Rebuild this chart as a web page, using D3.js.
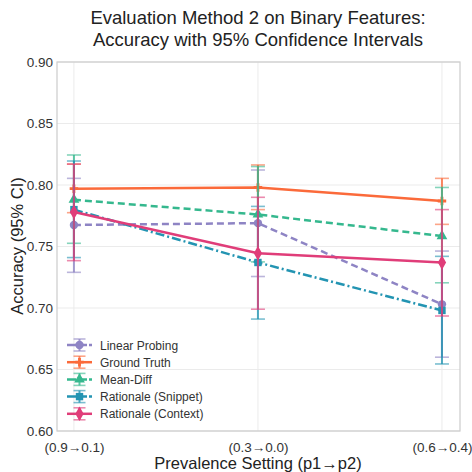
<!DOCTYPE html>
<html>
<head>
<meta charset="utf-8">
<script src="https://cdn.jsdelivr.net/npm/d3@7"></script>
<style>
  body { margin: 0; background: #fff; }
  svg { font-family: "Liberation Sans", Arial, sans-serif; }
</style>
</head>
<body>
<svg id="chart"></svg>
<script>
// categories and tick labels
let settings = ['(0.9\u21920.1)', '(0.3\u21920.0)', '(0.6\u21920.4)']
let yTicks = [0.60, 0.65, 0.70, 0.75, 0.80, 0.85, 0.90]

// series: mean accuracy, lower and upper 95% CI
let seriesNames = ['Linear Probing', 'Ground Truth', 'Mean-Diff', 'Rationale (Snippet)', 'Rationale (Context)']
let linearProbing = [0.7675, 0.769, 0.703]
let linearProbingLo = [0.729, 0.7256, 0.660]
let linearProbingHi = [0.8054, 0.8122, 0.7463]
let groundTruth = [0.797, 0.798, 0.787]
let groundTruthLo = [0.7775, 0.780, 0.768]
let groundTruthHi = [0.817, 0.8163, 0.8054]
let meanDiff = [0.788, 0.776, 0.7585]
let meanDiffLo = [0.7526, 0.7375, 0.7205]
let meanDiffHi = [0.8244, 0.815, 0.798]
let snippet = [0.780, 0.737, 0.698]
let snippetLo = [0.741, 0.691, 0.6545]
let snippetHi = [0.8195, 0.7826, 0.742]
let context = [0.778, 0.7445, 0.737]
let contextLo = [0.7385, 0.699, 0.6935]
let contextHi = [0.817, 0.790, 0.780]

let width = 472
let height = 472
let margin = {left: 57, right: 12, top: 62, bottom: 41}

let series = [
  {name: seriesNames[0], mean: linearProbing, lo: linearProbingLo, hi: linearProbingHi, color: '#8e84c4', dash: '7,4', symbol: d3.symbolCircle, size: 55},
  {name: seriesNames[1], mean: groundTruth, lo: groundTruthLo, hi: groundTruthHi, color: '#fb6a3a', dash: null, symbol: d3.symbolCross, size: 40},
  {name: seriesNames[2], mean: meanDiff, lo: meanDiffLo, hi: meanDiffHi, color: '#35b88e', dash: '7,4', symbol: d3.symbolTriangle, size: 50},
  {name: seriesNames[3], mean: snippet, lo: snippetLo, hi: snippetHi, color: '#2394b2', dash: '9,3,2,3', symbol: d3.symbolSquare, size: 55},
  {name: seriesNames[4], mean: context, lo: contextLo, hi: contextHi, color: '#e03d79', dash: null, symbol: d3.symbolDiamond, size: 60}
]

let svg = d3.select('#chart').attr('width', width).attr('height', height)

let xScale = d3.scaleLinear()
  .domain([-0.092, 2.098])
  .range([margin.left, width - margin.right])

let yScale = d3.scaleLinear()
  .domain([0.60, 0.90])
  .range([height - margin.bottom, margin.top])

// grid
svg.append('g')
  .selectAll('line.hgrid')
  .data(yTicks)
  .enter()
  .append('line')
  .attr('x1', margin.left).attr('x2', width - margin.right)
  .attr('y1', d => yScale(d)).attr('y2', d => yScale(d))
  .attr('stroke', '#ebebeb').attr('stroke-width', 1)

svg.append('g')
  .selectAll('line.vgrid')
  .data(settings)
  .enter()
  .append('line')
  .attr('x1', (d, i) => xScale(i)).attr('x2', (d, i) => xScale(i))
  .attr('y1', margin.top).attr('y2', height - margin.bottom)
  .attr('stroke', '#ebebeb').attr('stroke-width', 1)

// frame
svg.append('rect')
  .attr('x', margin.left).attr('y', margin.top)
  .attr('width', width - margin.left - margin.right)
  .attr('height', height - margin.top - margin.bottom)
  .attr('fill', 'none').attr('stroke', '#cccccc').attr('stroke-width', 1.2)

// axes
let xAxis = d3.axisBottom(xScale)
  .tickValues([0, 1, 2])
  .tickFormat(i => settings[i])
  .tickSize(0).tickPadding(11)
let yAxis = d3.axisLeft(yScale)
  .tickValues(yTicks)
  .tickFormat(d3.format('.2f'))
  .tickSize(0).tickPadding(4)

let gx = svg.append('g')
  .attr('transform', 'translate(0,' + (height - margin.bottom) + ')')
  .call(xAxis)
let gy = svg.append('g')
  .attr('transform', 'translate(' + margin.left + ',0)')
  .call(yAxis)
gx.select('.domain').remove()
gy.select('.domain').remove()
svg.selectAll('.tick text').attr('font-size', 13.5).attr('fill', '#333')
  .attr('font-family', '"Liberation Sans", Arial, sans-serif')

// series
series.forEach(s => {
  let g = svg.append('g')

  // error bars
  s.mean.forEach((m, i) => {
    let x = xScale(i)
    g.append('line')
      .attr('x1', x).attr('x2', x)
      .attr('y1', yScale(s.lo[i])).attr('y2', yScale(s.hi[i]))
      .attr('stroke', s.color).attr('stroke-width', 2).attr('opacity', 0.8)
    ;[s.lo[i], s.hi[i]].forEach(v => {
      g.append('line')
        .attr('x1', x - 7).attr('x2', x + 7)
        .attr('y1', yScale(v)).attr('y2', yScale(v))
        .attr('stroke', s.color).attr('stroke-width', 1.6).attr('opacity', 0.6)
    })
  })

  let line = d3.line()
    .x((d, i) => xScale(i))
    .y(d => yScale(d))
  g.append('path')
    .datum(s.mean)
    .attr('d', line)
    .attr('fill', 'none')
    .attr('stroke', s.color)
    .attr('stroke-width', 2.5)
    .attr('stroke-dasharray', s.dash)

  g.selectAll('path.marker')
    .data(s.mean)
    .enter()
    .append('path')
    .attr('d', d3.symbol().type(s.symbol).size(s.size))
    .attr('transform', (d, i) => 'translate(' + xScale(i) + ',' + yScale(d) + ')')
    .attr('fill', s.color)
})

// legend
let legend = svg.append('g').attr('transform', 'translate(67,345)')
series.forEach((s, i) => {
  let row = legend.append('g').attr('transform', 'translate(0,' + (i * 17.2) + ')')
  row.append('line')
    .attr('x1', 0).attr('x2', 25).attr('y1', 0).attr('y2', 0)
    .attr('stroke', s.color).attr('stroke-width', 2.5)
    .attr('stroke-dasharray', s.dash ? '9,2' : null)
  row.append('line')
    .attr('x1', 12.5).attr('x2', 12.5).attr('y1', -6).attr('y2', 6)
    .attr('stroke', s.color).attr('stroke-width', 2).attr('opacity', 0.8)
  ;[-6, 6].forEach(dy => {
    row.append('line')
      .attr('x1', 6.5).attr('x2', 18.5).attr('y1', dy).attr('y2', dy)
      .attr('stroke', s.color).attr('stroke-width', 1.6).attr('opacity', 0.6)
  })
  row.append('path')
    .attr('d', d3.symbol().type(s.symbol).size(s.size))
    .attr('transform', 'translate(12.5,0)')
    .attr('fill', s.color)
  row.append('text')
    .attr('x', 33).attr('y', 4.5)
    .attr('font-size', 12).attr('fill', '#333')
    .text(s.name)
})

// titles
svg.append('text')
  .attr('x', 258).attr('y', 24)
  .attr('text-anchor', 'middle').attr('font-size', 18.5).attr('fill', '#222')
  .text('Evaluation Method 2 on Binary Features:')
svg.append('text')
  .attr('x', 258).attr('y', 46)
  .attr('text-anchor', 'middle').attr('font-size', 18.5).attr('fill', '#222')
  .text('Accuracy with 95% Confidence Intervals')

svg.append('text')
  .attr('x', 258).attr('y', 469)
  .attr('text-anchor', 'middle').attr('font-size', 16.5).attr('fill', '#222')
  .text('Prevalence Setting (p1\u2192p2)')

svg.append('text')
  .attr('transform', 'translate(23,' + 246 + ') rotate(-90)')
  .attr('text-anchor', 'middle').attr('font-size', 16.5).attr('fill', '#222')
  .text('Accuracy (95% CI)')
</script>
</body>
</html>
